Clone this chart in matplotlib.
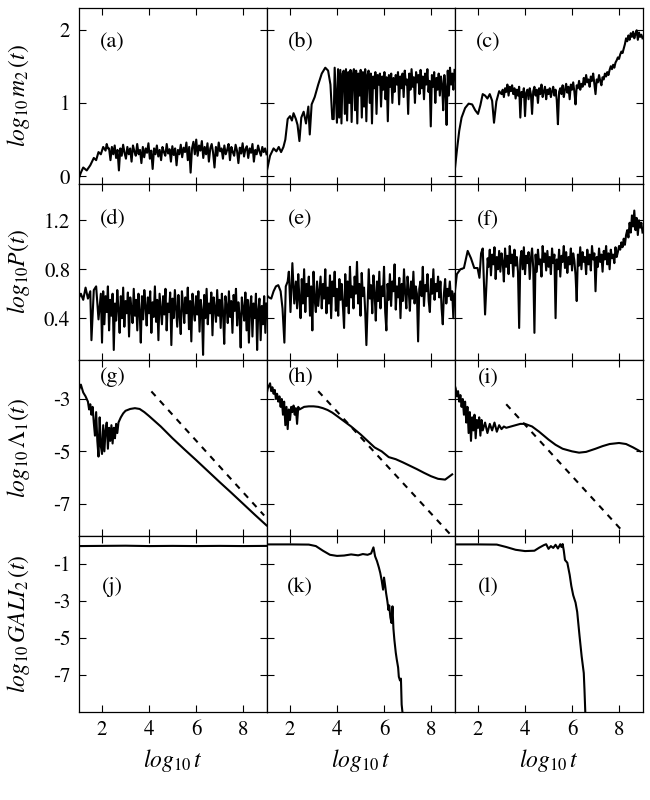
import numpy as np
import matplotlib
matplotlib.use("Agg")
import matplotlib.pyplot as plt

plt.rcParams['font.family'] = ['STIXGeneral', 'DejaVu Serif']
plt.rcParams['mathtext.fontset'] = 'stix'
plt.rcParams['axes.unicode_minus'] = False

# ---------------- data ----------------
# row 1 : log10 m2(t)
a_x0 = [1.0, 1.1, 1.2, 1.35, 1.5, 1.65, 1.75, 1.85, 1.95, 2.05, 2.15, 2.2, 2.25]
a_y0 = [-0.04, 0.05, 0.12, 0.08, 0.15, 0.25, 0.22, 0.33, 0.30, 0.40, 0.35, 0.44, 0.38]
a_noise = [0.38, 0.22, 0.40, 0.30, 0.42, 0.25, 0.36, 0.08, 0.38, 0.28, 0.43, 0.32, 0.24, 0.40,
           0.30, 0.38, 0.20, 0.42, 0.34, 0.28, 0.44, 0.30, 0.36, 0.18, 0.40, 0.26, 0.38, 0.32,
           0.45, 0.24, 0.35, 0.10, 0.38, 0.30, 0.42, 0.27, 0.36, 0.22, 0.40, 0.33, 0.28, 0.44,
           0.31, 0.37, 0.20, 0.41, 0.29, 0.38, 0.15, 0.36, 0.30, 0.43, 0.26, 0.39, 0.33, 0.46,
           0.22, 0.40, 0.05, 0.38, 0.47, 0.30, 0.50, 0.28, 0.42, 0.35, 0.48, 0.25, 0.40, 0.30,
           0.45, 0.20, 0.38, 0.44, 0.32, 0.12, 0.40, 0.28, 0.46, 0.34, 0.38, 0.24, 0.42, 0.30,
           0.36, 0.44, 0.22, 0.40, 0.33, 0.28, 0.43, 0.35, 0.18, 0.39, 0.31, 0.45, 0.27, 0.37,
           0.41, 0.25, 0.38, 0.32, 0.44, 0.20, 0.36, 0.30, 0.42, 0.34, 0.28, 0.40, 0.33, 0.38,
           0.30]

b_x0 = [1.0, 1.15, 1.3, 1.42, 1.52, 1.62, 1.72, 1.8, 1.9, 2.0, 2.08, 2.15, 2.25, 2.32, 2.4,
        2.48, 2.58, 2.68, 2.78, 2.84, 2.92, 3.05, 3.2, 3.35, 3.5, 3.62, 3.72, 3.8, 3.86]
b_y0 = [0.05, 0.28, 0.38, 0.34, 0.40, 0.33, 0.40, 0.50, 0.78, 0.82, 0.76, 0.86, 0.78, 0.70,
        0.48, 0.80, 0.88, 0.72, 0.95, 0.57, 0.98, 1.08, 1.25, 1.40, 1.48, 1.44, 1.25, 0.78, 0.78]
b_noise = [1.48, 1.10, 0.73, 1.46, 0.80, 1.45, 0.72, 1.40, 1.44, 0.85, 1.46, 0.76, 1.42, 1.00,
           1.45, 0.74, 1.38, 1.46, 0.90, 1.44, 0.72, 1.40, 1.10, 1.45, 0.80, 1.42, 0.95, 1.46,
           0.75, 1.38, 1.44, 1.00, 1.40, 0.72, 1.36, 1.20, 1.42, 0.85, 1.38, 1.25, 1.40, 0.95,
           1.36, 1.18, 1.42, 1.05, 1.35, 0.75, 1.38, 1.22, 1.40, 1.00, 1.34, 1.15, 1.38, 1.25,
           1.42, 0.98, 1.36, 1.20, 1.40, 1.08, 1.44, 1.25, 1.32, 0.85, 1.40, 1.18, 1.46, 1.22,
           1.35, 1.00, 1.42, 1.28, 1.38, 1.12, 1.45, 1.20, 1.36, 1.05, 1.40, 1.25, 1.46, 1.15,
           1.30, 0.68, 1.38, 1.22, 1.42, 1.00, 1.34, 1.18, 1.40, 1.10, 1.36, 1.25, 0.90, 1.38,
           1.20, 0.70, 1.44, 1.10, 1.48, 1.25, 1.40, 1.18, 1.45]

c_x0 = [1.0, 1.1, 1.2, 1.3, 1.45, 1.6, 1.75, 1.88, 2.0, 2.1, 2.2, 2.3, 2.4, 2.5, 2.6, 2.68,
        2.78, 2.9]
c_y0 = [0.05, 0.35, 0.62, 0.80, 0.93, 0.99, 0.98, 0.90, 0.85, 0.97, 1.12, 1.10, 1.06, 1.12,
        1.03, 0.73, 1.02, 1.16]
c_noise = [1.12, 1.18, 1.08, 1.20, 1.15, 1.25, 1.10, 1.22, 1.16, 1.24,
           1.12, 1.20, 1.06, 1.18, 1.10, 1.22, 0.80, 1.15, 1.08, 1.20,
           0.82, 1.14, 1.18, 1.05, 1.20, 1.12, 0.85, 1.16, 1.22, 1.10,
           1.18, 1.00, 1.20, 1.12, 1.25, 1.08, 1.16, 1.22, 1.05, 1.18,
           1.12, 1.20, 1.08, 1.16, 1.22, 1.10, 1.18, 1.04, 0.71, 1.15,
           1.20, 1.12, 1.24, 1.08, 1.18, 1.26, 1.14, 1.22, 1.05, 1.25,
           1.18, 1.28, 1.15, 0.98, 1.24, 1.20, 1.30, 1.18, 1.26, 1.22,
           1.34, 1.25, 1.38, 1.28, 1.32, 1.22, 1.36, 1.30, 1.40, 1.26,
           1.12, 1.32, 1.28, 1.38, 1.30, 1.24, 1.35, 1.32, 1.40, 1.36,
           1.42, 1.38, 1.45, 1.50, 1.46, 1.52, 1.48, 1.55, 1.58, 1.62,
           1.60, 1.66, 1.70, 1.68, 1.74, 1.80, 1.88, 1.84, 1.92, 1.86,
           1.95, 1.90, 1.97, 1.88, 1.94, 1.99, 1.86, 1.96, 1.90, 1.93, 1.88]

# row 2 : log10 P(t)
d_x0 = [1.0, 1.1, 1.2, 1.3, 1.4, 1.5, 1.55, 1.65, 1.75, 1.85, 1.95, 2.0]
d_y0 = [0.56, 0.60, 0.55, 0.65, 0.56, 0.62, 0.22, 0.63, 0.66, 0.39, 0.60, 0.20]
d_noise = [0.62, 0.35, 0.58, 0.45, 0.66, 0.30, 0.55, 0.42, 0.60, 0.14,
           0.52, 0.38, 0.63, 0.47, 0.28, 0.58, 0.40, 0.65, 0.33, 0.54,
           0.44, 0.61, 0.25, 0.57, 0.48, 0.36, 0.64, 0.42, 0.55, 0.30,
           0.60, 0.46, 0.20, 0.58, 0.39, 0.63, 0.50, 0.34, 0.57, 0.44,
           0.62, 0.28, 0.53, 0.41, 0.66, 0.37, 0.55, 0.22, 0.60, 0.47,
           0.35, 0.58, 0.43, 0.64, 0.30, 0.52, 0.45, 0.61, 0.18, 0.56,
           0.40, 0.63, 0.48, 0.33, 0.59, 0.42, 0.27, 0.62, 0.50, 0.36,
           0.57, 0.44, 0.65, 0.31, 0.54, 0.21, 0.60, 0.46, 0.38, 0.58,
           0.43, 0.62, 0.29, 0.55, 0.47, 0.10, 0.59, 0.40, 0.64, 0.35,
           0.52, 0.44, 0.61, 0.26, 0.57, 0.48, 0.37, 0.63, 0.42, 0.55,
           0.32, 0.60, 0.45, 0.19, 0.58, 0.50, 0.36, 0.62, 0.41, 0.54,
           0.28, 0.59, 0.46, 0.64, 0.34, 0.53, 0.43, 0.16, 0.57, 0.48,
           0.38, 0.61, 0.30, 0.55, 0.20, 0.49, 0.58, 0.25, 0.52, 0.40,
           0.60, 0.14, 0.47, 0.56, 0.22, 0.50, 0.35, 0.58, 0.28, 0.52]

e_x0 = [1.0, 1.1, 1.2, 1.3, 1.4, 1.5, 1.6, 1.68, 1.76, 1.82, 1.9, 1.95, 2.02, 2.1, 2.18]
e_y0 = [0.59, 0.57, 0.56, 0.62, 0.66, 0.67, 0.62, 0.48, 0.20, 0.66, 0.70, 0.78, 0.45, 0.85,
        0.52]
e_noise = [0.70, 0.48, 0.76, 0.55, 0.40, 0.72, 0.52, 0.80, 0.45, 0.68,
           0.58, 0.74, 0.42, 0.66, 0.30, 0.78, 0.55, 0.45, 0.70, 0.50,
           0.62, 0.74, 0.48, 0.68, 0.56, 0.80, 0.44, 0.65, 0.52, 0.75,
           0.40, 0.70, 0.58, 0.78, 0.46, 0.64, 0.42, 0.72, 0.55, 0.68,
           0.50, 0.32, 0.76, 0.50, 0.70, 0.44, 0.82, 0.57, 0.66, 0.48,
           0.74, 0.60, 0.86, 0.52, 0.68, 0.42, 0.77, 0.58, 0.65, 0.45,
           0.18, 0.50, 0.80, 0.56, 0.67, 0.44, 0.75, 0.60, 0.38, 0.70,
           0.54, 0.78, 0.48, 0.66, 0.58, 0.82, 0.45, 0.30, 0.68, 0.55,
           0.76, 0.50, 0.70, 0.62, 0.84, 0.47, 0.66, 0.57, 0.73, 0.40,
           0.68, 0.54, 0.80, 0.60, 0.48, 0.74, 0.63, 0.46, 0.70, 0.56,
           0.78, 0.52, 0.66, 0.60, 0.21, 0.64, 0.70, 0.58, 0.82, 0.50,
           0.67, 0.62, 0.76, 0.54, 0.45, 0.72, 0.60, 0.80, 0.55, 0.68,
           0.62, 0.74, 0.57, 0.70, 0.48, 0.35, 0.60, 0.72, 0.52, 0.64,
           0.58, 0.70, 0.55, 0.62, 0.40, 0.60]

f_x0 = [1.0, 1.1, 1.25, 1.4, 1.56, 1.7, 1.84, 1.98, 2.06, 2.13, 2.2, 2.3, 2.41]
f_y0 = [0.59, 0.76, 0.80, 0.81, 0.95, 0.89, 0.81, 0.81, 0.73, 0.93, 0.97, 0.43, 0.89]
f_noise = [0.82, 0.96, 0.75, 0.92, 0.84, 0.98, 0.72, 0.90, 0.80, 0.95,
           0.78, 0.93, 0.86, 0.70, 0.97, 0.82, 0.91, 0.76, 0.99, 0.85,
           0.92, 0.74, 0.96, 0.83, 0.90, 0.78, 0.32, 0.88, 0.95, 0.80,
           0.98, 0.76, 0.91, 0.85, 0.94, 0.72, 0.89, 0.97, 0.81, 0.28,
           0.92, 0.78, 0.96, 0.84, 0.88, 0.74, 0.99, 0.86, 0.93, 0.79,
           0.95, 0.82, 0.90, 0.76, 0.97, 0.85, 0.92, 0.40, 0.88, 0.80,
           0.96, 0.74, 0.91, 0.86, 0.99, 0.81, 0.94, 0.77, 0.90, 0.84,
           0.97, 0.79, 0.93, 0.87, 0.75, 0.54, 0.92, 0.83, 0.98, 0.80,
           0.94, 0.86, 0.90, 0.76, 0.96, 0.84, 0.92, 0.79, 0.99, 0.88,
           0.93, 0.62, 0.90, 0.82, 0.97, 0.86, 0.92, 0.78, 0.95, 0.88,
           0.99, 0.84, 0.93, 0.80, 0.96, 0.89, 0.92, 0.85, 0.98, 0.90,
           0.94, 0.99, 0.96, 1.02, 0.98, 1.05, 1.00, 1.08, 1.12, 1.06,
           1.18, 1.10, 1.24, 1.15, 1.28, 1.12, 1.22, 1.08, 1.20, 1.14,
           1.18, 1.10]

# row 3 : log10 Lambda1(t) and reference slope -1 lines
g_x = [1.0, 1.1, 1.2, 1.3, 1.4, 1.45, 1.5, 1.55, 1.6, 1.65, 1.7, 1.75, 1.8, 1.85, 1.9, 1.95,
       2.0, 2.05, 2.1, 2.15, 2.2, 2.25, 2.3, 2.35, 2.4, 2.45, 2.5, 2.55, 2.6, 2.65, 2.7, 2.8,
       2.9, 3.0, 3.2, 3.4, 3.6, 3.8, 4.0, 4.5, 5.0, 5.5, 6.0, 6.5, 7.0, 7.5, 8.0, 8.5, 9.0]
g_y = [-2.7, -2.45, -2.75, -2.9, -3.1, -3.4, -3.2, -3.6, -3.3, -3.9, -4.4, -3.5, -4.6, -5.2,
       -3.7, -4.8, -5.1, -4.0, -5.0, -4.2, -3.9, -4.9, -4.1, -4.6, -4.0, -4.7, -4.1, -4.5,
       -3.95, -4.3, -3.9, -3.7, -3.55, -3.45, -3.38, -3.35, -3.38, -3.5, -3.65, -4.05, -4.5,
       -4.92, -5.33, -5.75, -6.17, -6.58, -7.0, -7.42, -7.83]
g_dash_x = [4.1, 8.9]
g_dash_y = [-2.71, -7.45]

h_x = [1.0, 1.05, 1.1, 1.15, 1.2, 1.25, 1.3, 1.35, 1.4, 1.45, 1.5, 1.55, 1.6, 1.65, 1.7, 1.75,
       1.8, 1.85, 1.9, 1.95, 2.0, 2.05, 2.1, 2.15, 2.2, 2.25, 2.3, 2.35, 2.4, 2.5, 2.6, 2.8,
       3.0, 3.2, 3.4, 3.6, 3.8, 4.0, 4.3, 4.6, 5.0, 5.3, 5.6, 5.9, 6.2, 6.5, 6.8, 7.1, 7.4,
       7.7, 8.0, 8.3, 8.6, 8.9]
h_y = [-2.85, -2.6, -2.5, -2.4, -2.7, -2.55, -2.8, -2.65, -3.0, -2.8, -3.1, -2.9, -3.3, -3.0,
       -3.6, -3.1, -4.0, -3.3, -4.15, -3.4, -3.8, -3.3, -3.5, -3.25, -3.6, -3.35, -3.95, -3.3,
       -3.4, -3.35, -3.3, -3.28, -3.28, -3.3, -3.35, -3.42, -3.52, -3.65, -3.85, -4.05, -4.35,
       -4.6, -4.85, -5.0, -5.22, -5.3, -5.42, -5.55, -5.68, -5.82, -5.95, -6.05, -6.08, -5.88]
h_dash_x = [3.2, 8.9]
h_dash_y = [-2.7, -8.25]

i_x = [1.0, 1.05, 1.1, 1.15, 1.2, 1.25, 1.3, 1.35, 1.4, 1.45, 1.5, 1.55, 1.6, 1.65, 1.7, 1.75,
       1.8, 1.85, 1.9, 1.95, 2.0, 2.05, 2.1, 2.15, 2.2, 2.3, 2.4, 2.5, 2.6, 2.7, 2.8, 2.9, 3.0,
       3.1, 3.2, 3.4, 3.6, 3.8, 4.0, 4.3, 4.6, 5.0, 5.3, 5.6, 6.0, 6.3, 6.6, 7.0, 7.3, 7.6, 8.0,
       8.3, 8.6, 8.9]
i_y = [-2.45, -2.6, -2.9, -2.7, -3.1, -2.85, -3.3, -3.0, -3.6, -3.1, -3.9, -3.3, -4.3, -3.5,
       -4.6, -3.7, -4.2, -3.6, -4.5, -3.8, -4.1, -3.7, -4.4, -3.8, -4.2, -3.9, -4.3, -3.95,
       -4.2, -3.9, -4.25, -4.0, -4.15, -4.05, -4.1, -4.05, -4.0, -3.95, -3.95, -4.05, -4.25,
       -4.55, -4.75, -4.9, -5.0, -5.05, -5.02, -4.9, -4.8, -4.72, -4.68, -4.72, -4.85, -5.0]
i_dash_x = [3.2, 8.2]
i_dash_y = [-3.2, -8.1]

# row 4 : log10 GALI2(t)
j_x = [1.0, 2.0, 3.0, 4.0, 5.0, 6.0, 7.0, 8.0, 9.0]
j_y = [-0.05, -0.04, -0.03, -0.05, -0.04, -0.05, -0.04, -0.05, -0.04]

k_x = [1.0, 2.0, 2.8, 3.1, 3.4, 3.7, 4.0, 4.3, 4.6, 4.9, 5.1, 5.3, 5.45, 5.55, 5.62, 5.7,
       5.78, 5.84, 5.9, 5.96, 6.0, 6.05, 6.09, 6.14, 6.19, 6.22, 6.27, 6.32, 6.36, 6.4, 6.44,
       6.5, 6.54, 6.6, 6.63, 6.68, 6.72, 6.75, 6.8]
k_y = [0.04, 0.04, 0.03, -0.05, -0.3, -0.52, -0.58, -0.56, -0.5, -0.55, -0.48, -0.52, -0.45,
       -0.12, -0.6, -0.86, -1.2, -1.5, -1.9, -2.4, -1.75, -2.2, -2.6, -3.0, -3.5, -3.25, -3.9,
       -4.2, -3.3, -4.5, -5.1, -5.8, -6.15, -6.6, -7.1, -7.3, -7.2, -8.6, -9.2]

l_x = [1.0, 2.0, 2.8, 3.2, 3.6, 4.0, 4.4, 4.6, 4.8, 4.9, 5.0, 5.1, 5.2, 5.3, 5.4, 5.5, 5.55,
       5.6, 5.65, 5.7, 5.8, 5.9, 5.97, 6.05, 6.15, 6.22, 6.32, 6.41, 6.5, 6.53, 6.57]
l_y = [0.04, 0.04, 0.03, -0.1, -0.25, -0.32, -0.3, -0.14, 0.0, 0.05, -0.2, -0.05, -0.15, 0.02,
       -0.18, 0.05, -0.1, 0.06, -0.3, -0.8, -0.95, -1.6, -2.2, -2.7, -3.1, -3.6, -4.9, -6.0,
       -6.9, -7.8, -9.2]

row_ylabels = [r'$log_{10}\, m_2\,(t)$', r'$log_{10}P(t)$',
               r'$log_{10}\,\mathit{\Lambda}_{\mathit{1}}(t)$', r'$log_{10}\,GALI_2\,(t)$']
row_ylims = [(-0.1, 2.3), (0.06, 1.5), (-8.23, -1.5), (-9.0, 0.5)]
row_yticks = [[0, 1, 2], [0.4, 0.8, 1.2], [-3, -5, -7], [-1, -3, -5, -7]]
row_yticklabels = [['0', '1', '2'], ['0.4', '0.8', '1.2'], ['-3', '-5', '-7'],
                   ['-1', '-3', '-5', '-7']]
panel_letters = ['(a)', '(b)', '(c)', '(d)', '(e)', '(f)',
                 '(g)', '(h)', '(i)', '(j)', '(k)', '(l)']
xticks = [2, 4, 6, 8]


def join_noise(x0, y0, noise, x_start):
    # lead-in points followed by the dense noisy stretch up to t = 10^9
    xs = np.concatenate([x0, np.linspace(x_start, 9.0, len(noise))])
    ys = np.concatenate([y0, noise])
    return xs, ys


curves = [
    join_noise(a_x0, a_y0, a_noise, 2.3),
    join_noise(b_x0, b_y0, b_noise, 3.9),
    join_noise(c_x0, c_y0, c_noise, 3.0),
    join_noise(d_x0, d_y0, d_noise, 2.05),
    join_noise(e_x0, e_y0, e_noise, 2.25),
    join_noise(f_x0, f_y0, f_noise, 2.45),
    (g_x, g_y), (h_x, h_y), (i_x, i_y),
    (j_x, j_y), (k_x, k_y), (l_x, l_y),
]
dashes = {6: (g_dash_x, g_dash_y), 7: (h_dash_x, h_dash_y), 8: (i_dash_x, i_dash_y)}
label_y = [0.80, 0.80, 0.90, 0.71]

fig, axes = plt.subplots(4, 3, figsize=(6.5, 8), dpi=100, sharex=True, sharey='row',
                         gridspec_kw=dict(hspace=0, wspace=0))
fig.subplots_adjust(left=0.1208, right=0.9885, top=0.9906, bottom=0.11)

for n, ax in enumerate(axes.flat):
    r, c = divmod(n, 3)
    xs, ys = curves[n]
    ax.plot(xs, ys, color='black', lw=1.5)
    if n in dashes:
        dx, dy = dashes[n]
        ax.plot(dx, dy, color='black', lw=1.5, ls=(0, (3, 3)))
    ax.set_xlim(1, 9)
    ax.set_ylim(*row_ylims[r])
    ax.set_xticks(xticks)
    ax.set_yticks(row_yticks[r])
    ax.set_yticklabels(row_yticklabels[r])
    ax.tick_params(direction='in', top=True, right=True, length=5, width=0.8,
                   labelsize=15, pad=6)
    for sp in ax.spines.values():
        sp.set_linewidth(0.9)
    ax.text(0.18, label_y[r], panel_letters[n], transform=ax.transAxes,
            ha='center', va='center', fontsize=16)
    if c == 0:
        ax.set_ylabel(row_ylabels[r], fontsize=17)
        ax.yaxis.set_label_coords(-0.25, 0.5)
    if r == 3:
        ax.set_xlabel(r'$log_{10}\,t$', fontsize=17, labelpad=5)

fig.savefig('out.png', dpi=100)
